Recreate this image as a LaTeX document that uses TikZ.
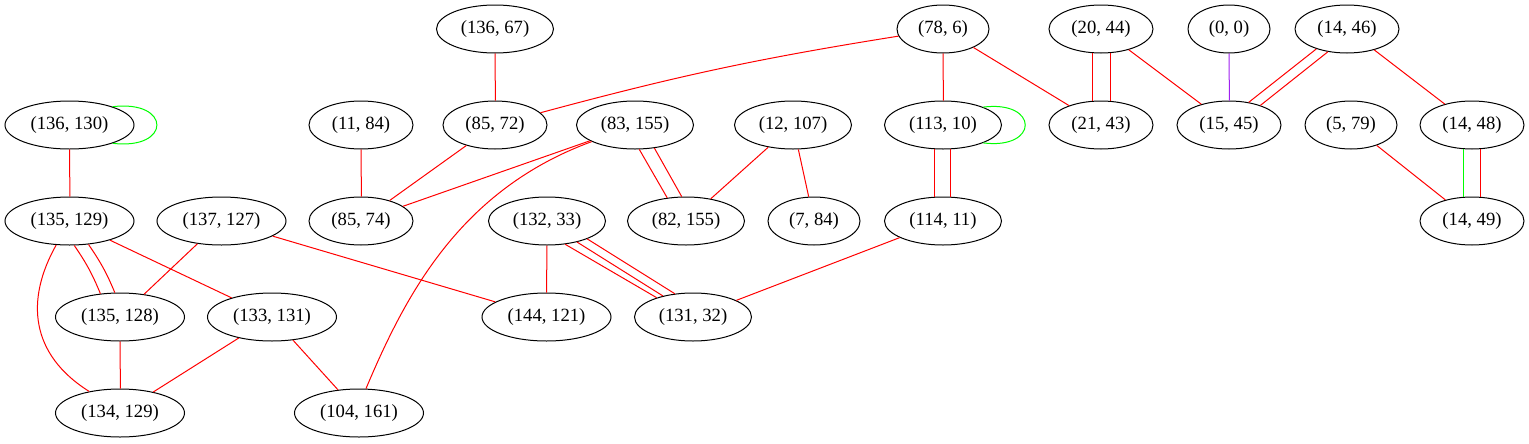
\documentclass[tikz,border=0pt]{standalone}
\usepackage{fontspec}
\setmainfont{Liberation Serif}
\usepackage{tikz}
\usetikzlibrary{shapes.geometric}

\definecolor{gvpurple}{HTML}{A020F0}
\tikzset{
  vtx/.style={ellipse, draw, line width=0.75pt, inner sep=0pt,
    minimum height=36pt, minimum width=#1,
    font=\fontsize{14pt}{16pt}\selectfont},
  redline/.style={draw=red, line width=0.75pt},
  greenline/.style={draw=green, line width=0.75pt},
  purpleline/.style={draw=gvpurple, line width=0.75pt}
}

\begin{document}
\begin{tikzpicture}[x=0.75pt, y=-0.75pt]
    \useasboundingbox (0,0) rectangle (1529,443);
    % nodes
    \node[vtx=96.75pt] (n136-130) at (69.5,125) {(136, 130)};
    \node[vtx=96.75pt] (n135-129) at (69.5,221) {(135, 129)};
    \node[vtx=96.75pt] (n137-127) at (221.5,221) {(137, 127)};
    \node[vtx=96.75pt] (n135-128) at (120,317) {(135, 128)};
    \node[vtx=96.75pt] (n133-131) at (272,317) {(133, 131)};
    \node[vtx=96.75pt] (n134-129) at (120,413) {(134, 129)};
    \node[vtx=96.75pt] (n104-161) at (359,413) {(104, 161)};
    \node[vtx=78pt] (n11-84) at (361,125) {(11, 84)};
    \node[vtx=78pt] (n85-74) at (361,221) {(85, 74)};
    \node[vtx=87.75pt] (n136-67) at (495,29) {(136, 67)};
    \node[vtx=78pt] (n85-72) at (495,125) {(85, 72)};
    \node[vtx=87.75pt] (n83-155) at (635,125) {(83, 155)};
    \node[vtx=87.75pt] (n12-107) at (793,125) {(12, 107)};
    \node[vtx=87.75pt] (n132-33) at (547,221) {(132, 33)};
    \node[vtx=87.75pt] (n82-155) at (686,221) {(82, 155)};
    \node[vtx=69pt] (n7-84) at (814,221) {(7, 84)};
    \node[vtx=96.75pt] (n144-121) at (546.5,317) {(144, 121)};
    \node[vtx=87.75pt] (n131-32) at (693,317) {(131, 32)};
    \node[vtx=69pt] (n78-6) at (943,29) {(78, 6)};
    \node[vtx=87.75pt] (n113-10) at (943,125) {(113, 10)};
    \node[vtx=87.75pt] (n114-11) at (943,221) {(114, 11)};
    \node[vtx=78pt] (n20-44) at (1101,29) {(20, 44)};
    \node[vtx=78pt] (n21-43) at (1101,125) {(21, 43)};
    \node[vtx=61.5pt] (n0-0) at (1229,29) {(0, 0)};
    \node[vtx=78pt] (n15-45) at (1229,125) {(15, 45)};
    \node[vtx=78pt] (n14-46) at (1347,29) {(14, 46)};
    \node[vtx=69pt] (n5-79) at (1351,125) {(5, 79)};
    \node[vtx=78pt] (n14-48) at (1472,125) {(14, 48)};
    \node[vtx=78pt] (n14-49) at (1472,221) {(14, 49)};
    % left part
    \draw[greenline] (n136-130.23) .. controls +(59,-7) and +(59,7) .. (n136-130.337);
    \draw[redline] (n136-130.270) -- (n135-129.89.6);
    \draw[redline] (n135-129.281) to[bend left=6] (n135-128.130);
    \draw[redline] (n135-129.309) to[bend left=6] (n135-128.102);
    \draw[redline] (n135-129.241) .. controls +(-31,55) and +(-59,-37) .. (n134-129.145);
    \draw[redline] (n135-129) -- (n133-131);
    \draw[redline] (n137-127) -- (n135-128);
    \draw[redline] (n137-127) -- (n144-121);
    \draw[redline] (n135-128.270) -- (n134-129.89.6);
    \draw[redline] (n133-131) -- (n134-129);
    \draw[redline] (n133-131) -- (n104-161);
    % middle part
    \draw[redline] (n11-84.270) -- (n85-74.89.6);
    \draw[redline] (n136-67.270) -- (n85-72.89.6);
    \draw[redline] (n85-72) -- (n85-74);
    \draw[redline] (n83-155) -- (n85-74);
    \draw[redline] (n83-155.201) .. controls +(-131,48) and +(40,-95) .. (n104-161.74);
    \draw[redline] (n83-155.280) -- (n82-155.129);
    \draw[redline] (n83-155.310) -- (n82-155.100);
    \draw[redline] (n12-107) -- (n82-155);
    \draw[redline] (n12-107) -- (n7-84);
    \draw[redline] (n132-33) -- (n144-121);
    \draw[redline] (n132-33.308) -- (n131-32.152);
    \draw[redline] (n132-33.325) -- (n131-32.145);
    \draw[redline] (n132-33.336) -- (n131-32.128);
    \draw[redline] (n114-11) -- (n131-32);
    % right part
    \draw[redline] (n78-6) to[bend right=3] (n85-72);
    \draw[redline] (n78-6.270) -- (n113-10.89.6);
    \draw[redline] (n78-6) -- (n21-43);
    \draw[greenline] (n113-10.24) .. controls +(56,-7) and +(56,7) .. (n113-10.336);
    \draw[redline] (n113-10.250) -- (n114-11.110.3);
    \draw[redline] (n113-10.288) -- (n114-11.72.3);
    \draw[redline] (n20-44.251) -- (n21-43.109.3);
    \draw[redline] (n20-44.291) -- (n21-43.69.3);
    \draw[redline] (n20-44) -- (n15-45);
    \draw[purpleline] (n0-0.270) -- (n15-45.89.6);
    \draw[redline] (n14-46.213) -- (n15-45.49);
    \draw[redline] (n14-46.230) -- (n15-45.32);
    \draw[redline] (n14-46) -- (n14-48);
    \draw[redline] (n5-79) -- (n14-49);
    \draw[greenline] (n14-48.250) -- (n14-49.110.3);
    \draw[redline] (n14-48.289) -- (n14-49.71.3);
\end{tikzpicture}
\end{document}
